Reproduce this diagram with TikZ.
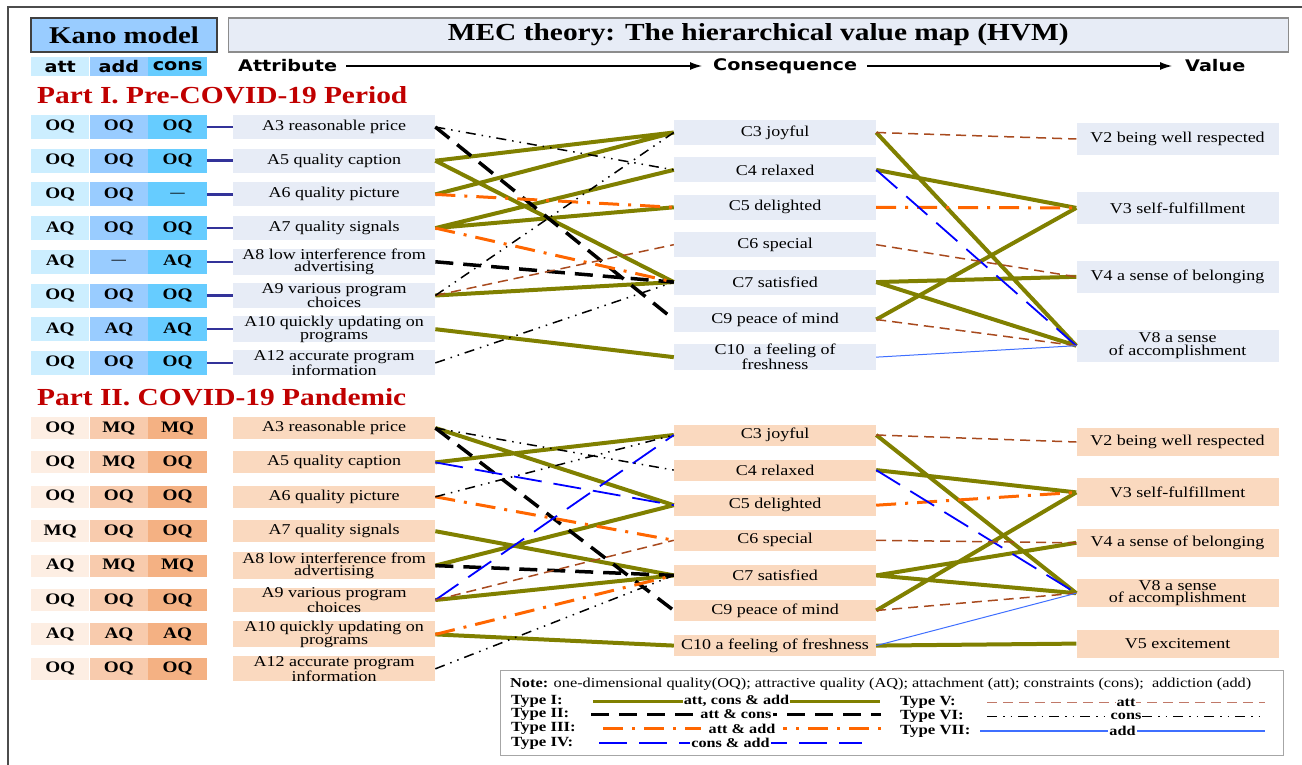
\documentclass[tikz,border=0pt]{standalone}
\usepackage{fontspec}
\setmainfont{Liberation Serif}[FakeStretch=1.2]
\newfontfamily\hdrfont{DejaVu Sans}[FakeStretch=1.2]
\usetikzlibrary{arrows.meta,positioning}
\definecolor{kblue}{HTML}{99CCFF}
\definecolor{attI}{HTML}{CCEEFF}
\definecolor{addI}{HTML}{99CCFF}
\definecolor{consI}{HTML}{66CCFF}
\definecolor{fillI}{HTML}{E7ECF6}
\definecolor{attII}{HTML}{FDEEE3}
\definecolor{addII}{HTML}{F8CBAD}
\definecolor{consII}{HTML}{F4B183}
\definecolor{fillII}{HTML}{FAD9BF}
\definecolor{colive}{HTML}{808000}
\definecolor{corange}{HTML}{FF6600}
\definecolor{cbrown}{HTML}{A84A1E}
\definecolor{clight}{HTML}{3F6FFF}
\definecolor{cred}{HTML}{C00000}
\definecolor{cnavy}{HTML}{333399}
\definecolor{crosy}{HTML}{C07868}

\begin{document}
\begin{tikzpicture}[x=1pt,y=-1pt,>=Latex,font=\fontsize{15}{12.5}\selectfont]
  \tikzstyle{cell}=[inner sep=0pt,minimum width=58.3pt,font=\fontsize{16}{16}\selectfont\bfseries]
  \tikzstyle{cellI}=[cell,minimum height=24pt]
  \tikzstyle{cellII}=[cell,minimum height=22pt]
  \tikzstyle{hcell}=[inner sep=0pt,minimum width=58.3pt,minimum height=19pt,font=\fontsize{16}{16}\hdrfont\bfseries]
  \tikzstyle{hdr}=[inner sep=0pt,font=\fontsize{16}{16}\hdrfont\bfseries]
  \tikzstyle{ptitle}=[inner sep=0pt,anchor=west,text=cred,font=\fontsize{24.5}{24.5}\selectfont\bfseries]
  \tikzstyle{abox}=[inner sep=0pt,minimum width=202pt,align=center]
  \tikzstyle{boxI}=[abox,fill=fillI,minimum height=24pt]
  \tikzstyle{boxII}=[abox,fill=fillII,minimum height=22pt]
  \tikzstyle{cI}=[boxI,minimum height=25pt]
  \tikzstyle{vI}=[boxI,minimum height=32pt]
  \tikzstyle{cII}=[boxII,minimum height=21pt]
  \tikzstyle{vII}=[boxII,minimum height=28pt]
  \tikzstyle{kline}=[cnavy,line width=2.5pt]
  \tikzstyle{typeI}=[colive,line width=4pt]
  \tikzstyle{typeII}=[black,line width=3.5pt,dash pattern=on 18pt off 10pt]
  \tikzstyle{typeIII}=[corange,line width=3pt,dash pattern=on 20pt off 9pt on 3pt off 9pt]
  \tikzstyle{typeIV}=[blue,line width=1.8pt,dash pattern=on 28pt off 12pt]
  \tikzstyle{typeV}=[cbrown,line width=1.5pt,dash pattern=on 10pt off 6pt]
  \tikzstyle{typeVI}=[black,line width=1.5pt,dash pattern=on 10pt off 6pt on 1.5pt off 6pt on 1.5pt off 6pt]
  \tikzstyle{typeVII}=[clight,line width=1pt]
  \tikzstyle{legl}=[inner sep=0pt,anchor=west,font=\fontsize{14}{14}\selectfont\bfseries]
  \tikzstyle{legt}=[fill=white,text=black,inner xsep=1pt,inner ysep=0pt,font=\fontsize{13.5}{13.5}\selectfont\bfseries]

  \useasboundingbox (0,0) rectangle (1302,765);
  \draw[black!70,line width=1.5pt] (1302,7) -- (8,7) -- (8,765);

  % header
  \node[draw=black!75,line width=1.3pt,fill=kblue,minimum width=186pt,minimum height=34pt,font=\fontsize{24}{24}\selectfont\bfseries] (kano) at (124,35) {Kano model};
  \node[draw=black!45,line width=1.3pt,fill=fillI,minimum width=1060pt,minimum height=34pt,right=10pt of kano,font=\fontsize{24.5}{24.5}\selectfont\bfseries] (mec) {MEC theory: The hierarchical value map (HVM)};
  \node[hcell,fill=attI] (hatt) at (60.2,66.5) {att};
  \node[hcell,fill=addI,right=0pt of hatt] (hadd) {add};
  \node[hcell,fill=consI,right=0pt of hadd] (hcons) {cons};
  \node[hdr,anchor=west] (attr) at (238,66) {Attribute};
  \node[hdr,anchor=west] (conseq) at (713,66) {Consequence};
  \node[hdr,anchor=west] (val) at (1185,66) {Value};
  \draw[-{Latex[length=12pt,width=8pt]},line width=1.2pt,shorten <=9pt,shorten >=11pt] (attr) -- (conseq);
  \draw[-{Latex[length=12pt,width=8pt]},line width=1.2pt,shorten <=10pt,shorten >=13pt] (conseq) -- (val);

  % Part I: Kano cells and attributes
  \node[ptitle] (p1) at (37,95) {Part I. Pre-COVID-19 Period};
  \node[cellI,fill=attI] (att3) at (60.2,127) {OQ};
  \node[cellI,fill=addI,right=0pt of att3] (add3) {OQ};
  \node[cellI,fill=consI,right=0pt of add3] (cons3) {OQ};
  \node[boxI,right=26pt of cons3] (a3) {A3 reasonable price};
  \node[cellI,fill=attI,below=9.3pt of att3] (att5) {OQ};
  \node[cellI,fill=addI,right=0pt of att5] (add5) {OQ};
  \node[cellI,fill=consI,right=0pt of add5] (cons5) {OQ};
  \node[boxI,right=26pt of cons5] (a5) {A5 quality caption};
  \node[cellI,fill=attI,below=9.3pt of att5] (att6) {OQ};
  \node[cellI,fill=addI,right=0pt of att6] (add6) {OQ};
  \node[cellI,fill=consI,right=0pt of add6] (cons6) {\fontsize{12}{12}\selectfont ---};
  \node[boxI,right=26pt of cons6] (a6) {A6 quality picture};
  \node[cellI,fill=attI,below=9.3pt of att6] (att7) {AQ};
  \node[cellI,fill=addI,right=0pt of att7] (add7) {OQ};
  \node[cellI,fill=consI,right=0pt of add7] (cons7) {OQ};
  \node[boxI,right=26pt of cons7] (a7) {A7 quality signals};
  \node[cellI,fill=attI,below=9.3pt of att7] (att8) {AQ};
  \node[cellI,fill=addI,right=0pt of att8] (add8) {\fontsize{12}{12}\selectfont ---};
  \node[cellI,fill=consI,right=0pt of add8] (cons8) {AQ};
  \node[boxI,right=26pt of cons8] (a8) {A8 low interference from\\advertising};
  \node[cellI,fill=attI,below=9.3pt of att8] (att9) {OQ};
  \node[cellI,fill=addI,right=0pt of att9] (add9) {OQ};
  \node[cellI,fill=consI,right=0pt of add9] (cons9) {OQ};
  \node[boxI,right=26pt of cons9] (a9) {A9 various program\\choices};
  \node[cellI,fill=attI,below=9.3pt of att9] (att10) {AQ};
  \node[cellI,fill=addI,right=0pt of att10] (add10) {AQ};
  \node[cellI,fill=consI,right=0pt of add10] (cons10) {AQ};
  \node[boxI,right=26pt of cons10] (a10) {A10 quickly updating on\\programs};
  \node[cellI,fill=attI,below=9.3pt of att10] (att12) {OQ};
  \node[cellI,fill=addI,right=0pt of att12] (add12) {OQ};
  \node[cellI,fill=consI,right=0pt of add12] (cons12) {OQ};
  \node[boxI,right=26pt of cons12] (a12) {A12 accurate program\\information};
  \draw[kline] (cons3) -- (a3);
  \draw[kline] (cons5) -- (a5);
  \draw[kline] (cons6) -- (a6);
  \draw[kline] (cons7) -- (a7);
  \draw[kline] (cons8) -- (a8);
  \draw[kline] (cons9) -- (a9);
  \draw[kline] (cons10) -- (a10);
  \draw[kline] (cons12) -- (a12);

  % Part I: consequences and values
  \node[cI] (c3) at (775,132.5) {C3 joyful};
  \node[cI,below=12pt of c3] (c4) {C4 relaxed};
  \node[cI,below=12pt of c4] (c5) {C5 delighted};
  \node[cI,below=12pt of c5] (c6) {C6 special};
  \node[cI,below=12pt of c6] (c7) {C7 satisfied};
  \node[cI,below=12pt of c7] (c9) {C9 peace of mind};
  \node[cI,below=12pt of c9] (c10) {C10~ a feeling of\\freshness};
  \node[vI] (v2) at (1177.5,139) {V2 being well respected};
  \node[vI,below=36.5pt of v2] (v3) {V3 self-fulfillment};
  \node[vI,below=36.5pt of v3] (v4) {V4 a sense of belonging};
  \node[vI,below=36.5pt of v4] (v8) {V8 a sense\\of accomplishment};

  % Part I links
  \draw[typeI] (a5.east) -- (c3.west) (a5.east) -- (c7.west) (a6.east) -- (c3.west) (a7.east) -- (c4.west) (a7.east) -- (c5.west) (a9.east) -- (c7.west) (a10.east) -- (c10.west);
  \draw[typeI] (c3.east) -- (v8.west) (c4.east) -- (v3.west) (c7.east) -- (v4.west) (c7.east) -- (v8.west) (c9.east) -- (v3.west);
  \draw[typeII] (a3.east) -- (c9.west) (a8.east) -- (c7.west);
  \draw[typeIII] (a6.east) -- (c5.west) (a7.east) -- (c7.west) (c5.east) -- (v3.west);
  \draw[typeIV] (c4.east) -- (v8.west);
  \draw[typeV] (a9.east) -- (c6.west) (c3.east) -- (v2.west) (c6.east) -- (v4.west) (c9.east) -- (v8.west);
  \draw[typeVI] (a3.east) -- (c4.west) (a9.east) -- (c3.west) (a12.east) -- (c7.west);
  \draw[typeVII] (c10.east) -- (v8.west);

  % Part II: Kano cells and attributes
  \node[ptitle] (p2) at (37,397) {Part II. COVID-19 Pandemic};
  \node[cellII,fill=attII] (patt3) at (60.2,428) {OQ};
  \node[cellII,fill=addII,right=0pt of patt3] (padd3) {MQ};
  \node[cellII,fill=consII,right=0pt of padd3] (pcons3) {MQ};
  \node[boxII,right=26pt of pcons3] (pa3) {A3 reasonable price};
  \node[cellII,fill=attII,below=12pt of patt3] (patt5) {OQ};
  \node[cellII,fill=addII,right=0pt of patt5] (padd5) {MQ};
  \node[cellII,fill=consII,right=0pt of padd5] (pcons5) {OQ};
  \node[boxII,right=26pt of pcons5] (pa5) {A5 quality caption};
  \node[cellII,fill=attII,below=12pt of patt5] (patt6) {OQ};
  \node[cellII,fill=addII,right=0pt of patt6] (padd6) {OQ};
  \node[cellII,fill=consII,right=0pt of padd6] (pcons6) {OQ};
  \node[boxII,right=26pt of pcons6] (pa6) {A6 quality picture};
  \node[cellII,fill=attII,below=12pt of patt6] (patt7) {MQ};
  \node[cellII,fill=addII,right=0pt of patt7] (padd7) {OQ};
  \node[cellII,fill=consII,right=0pt of padd7] (pcons7) {OQ};
  \node[boxII,right=26pt of pcons7] (pa7) {A7 quality signals};
  \node[cellII,fill=attII,below=12pt of patt7] (patt8) {AQ};
  \node[cellII,fill=addII,right=0pt of patt8] (padd8) {MQ};
  \node[cellII,fill=consII,right=0pt of padd8] (pcons8) {MQ};
  \node[boxII,right=26pt of pcons8] (pa8) {A8 low interference from\\advertising};
  \node[cellII,fill=attII,below=12pt of patt8] (patt9) {OQ};
  \node[cellII,fill=addII,right=0pt of patt9] (padd9) {OQ};
  \node[cellII,fill=consII,right=0pt of padd9] (pcons9) {OQ};
  \node[boxII,right=26pt of pcons9] (pa9) {A9 various program\\choices};
  \node[cellII,fill=attII,below=12pt of patt9] (patt10) {AQ};
  \node[cellII,fill=addII,right=0pt of patt10] (padd10) {AQ};
  \node[cellII,fill=consII,right=0pt of padd10] (pcons10) {AQ};
  \node[boxII,right=26pt of pcons10] (pa10) {A10 quickly updating on\\programs};
  \node[cellII,fill=attII,below=12pt of patt10] (patt12) {OQ};
  \node[cellII,fill=addII,right=0pt of patt12] (padd12) {OQ};
  \node[cellII,fill=consII,right=0pt of padd12] (pcons12) {OQ};
  \node[boxII,right=26pt of pcons12] (pa12) {A12 accurate program\\information};

  % Part II: consequences and values
  \node[cII] (pc3) at (775,435) {C3 joyful};
  \node[cII,below=13.7pt of pc3] (pc4) {C4 relaxed};
  \node[cII,below=13.7pt of pc4] (pc5) {C5 delighted};
  \node[cII,below=13.7pt of pc5] (pc6) {C6 special};
  \node[cII,below=13.7pt of pc6] (pc7) {C7 satisfied};
  \node[cII,below=13.7pt of pc7] (pc9) {C9 peace of mind};
  \node[cII,below=13.7pt of pc9] (pc10) {C10 a feeling of freshness};
  \node[vII] (pv2) at (1177.5,442) {V2 being well respected};
  \node[vII,below=22pt of pv2] (pv3) {V3 self-fulfillment};
  \node[vII,below=22pt of pv3] (pv4) {V4 a sense of belonging};
  \node[vII,below=22pt of pv4] (pv8) {V8 a sense\\of accomplishment};
  \node[vII,below=22pt of pv8] (pv5) {V5 excitement};

  % Part II links
  \draw[typeI] (pa3.east) -- (pc5.west) (pa5.east) -- (pc3.west) (pa7.east) -- (pc7.west) (pa8.east) -- (pc5.west) (pa9.east) -- (pc7.west) (pa10.east) -- (pc10.west);
  \draw[typeI] (pc3.east) -- (pv8.west) (pc4.east) -- (pv3.west) (pc7.east) -- (pv4.west) (pc7.east) -- (pv8.west) (pc9.east) -- (pv3.west) (pc10.east) -- (pv5.west);
  \draw[typeII] (pa3.east) -- (pc9.west) (pa8.east) -- (pc7.west);
  \draw[typeIII] (pa6.east) -- (pc6.west) (pa10.east) -- (pc7.west) (pc5.east) -- (pv3.west);
  \draw[typeIV] (pa5.east) -- (pc5.west) (pa9.east) -- (pc3.west) (pc4.east) -- (pv8.west);
  \draw[typeV] (pa9.east) -- (pc6.west) (pc3.east) -- (pv2.west) (pc6.east) -- (pv4.west) (pc9.east) -- (pv8.west);
  \draw[typeVI] (pa3.east) -- (pc4.west) (pa6.east) -- (pc3.west) (pa12.east) -- (pc7.west);
  \draw[typeVII] (pc10.east) -- (pv8.west);

  % legend
  \node[draw=black!35,line width=1pt,inner sep=0pt,minimum width=783pt,minimum height=85pt] (legend) at (891.5,712.5) {};
  \node[inner sep=0pt,anchor=west,font=\fontsize{13.6}{13.6}\selectfont] (note) at (510,684) {\textbf{Note:} one-dimensional quality(OQ); attractive quality (AQ); attachment (att); constraints (cons);~ addiction (add)};
  \node[legl] (t1) at (511,701) {Type I:};
  \node[legl] (t2) at (511,714.5) {Type II:};
  \node[legl] (t3) at (511,728.5) {Type III:};
  \node[legl] (t4) at (511,743) {Type IV:};
  \node[legl] (t5) at (900,702.5) {Type V:};
  \node[legl] (t6) at (900,716.5) {Type VI:};
  \node[legl] (t7) at (900,731) {Type VII:};
  \coordinate (l1a) at (593,701); \coordinate (l1b) at (880,701);
  \coordinate (l2a) at (591,714.5); \coordinate (l2b) at (881,714.5);
  \coordinate (l3a) at (603,728.5); \coordinate (l3b) at (881,728.5);
  \coordinate (l4a) at (599,743); \coordinate (l4b) at (862,743);
  \coordinate (l5a) at (987,702.5); \coordinate (l5b) at (1265,702.5);
  \coordinate (l6a) at (987,716.5); \coordinate (l6b) at (1265,716.5);
  \coordinate (l7a) at (980,731); \coordinate (l7b) at (1265,731);
  \draw[typeI,line width=3pt] (l1a) -- node[legt] {att, cons \& add} (l1b);
  \draw[typeII,line width=3pt] (l2a) -- node[legt] {att \& cons} (l2b);
  \draw[typeIII] (l3a) -- node[legt,inner xsep=8pt] {att \& add} (l3b);
  \draw[typeIV,draw=blue] (l4a) -- node[legt] {cons \& add} (l4b);
  \draw[typeV,draw=crosy] (l5a) -- node[legt] {att} (l5b);
  \draw[typeVI] (l6a) -- node[legt] {cons} (l6b);
  \draw[typeVII,draw=clight,line width=1.3pt] (l7a) -- node[legt] {add} (l7b);
\end{tikzpicture}
\end{document}
